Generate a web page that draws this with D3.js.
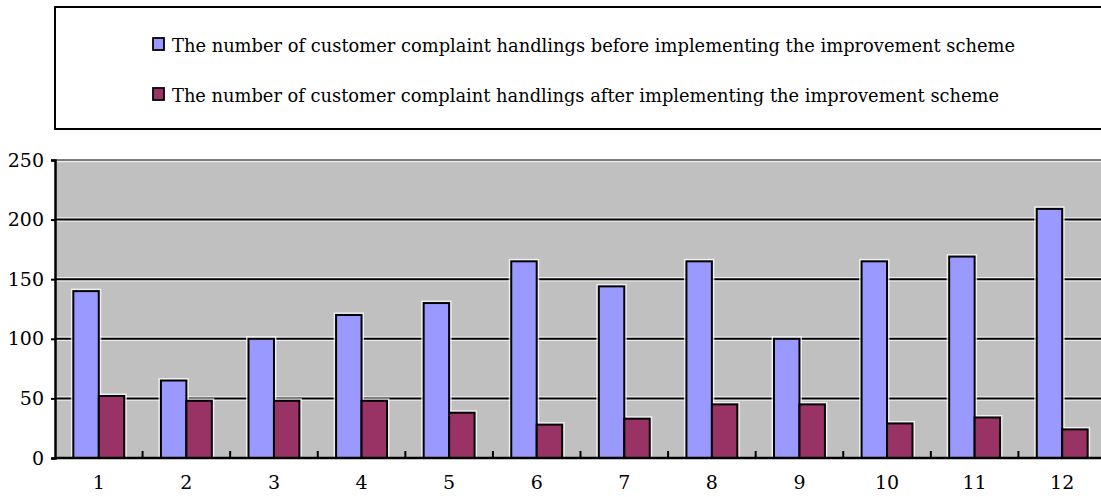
<!DOCTYPE html>
<html><head><meta charset="utf-8">
<script src="https://cdn.jsdelivr.net/npm/d3@7"></script>
<style>
body{margin:0;background:#fff}svg{display:block}
</style>
</head><body>
<svg id="c" width="1101" height="497"></svg>
<script>
const categories = ["1","2","3","4","5","6","7","8","9","10","11","12"];
const before = [140, 65, 100, 120, 130, 165, 144, 165, 100, 165, 169, 209];
const after = [52, 48, 48, 48, 38, 28, 33, 45, 45, 29, 34, 24];
const yTicks = [0, 50, 100, 150, 200, 250];
const seriesNames = [
  "The number of customer complaint handlings before implementing the improvement scheme",
  "The number of customer complaint handlings after implementing the improvement scheme"
];
const colors = ["#9999FF", "#993366"];

(function () {
const FONT = "'DejaVu Serif'";
const svg = d3.select("#c");
const pL = 55, pR = 1106, pT = 160, pB = 458;
const x = d3.scaleBand().domain(categories).range([pL, pR]);
const y = d3.scaleLinear().domain([0, 250]).range([pB, pT]);
const inner = d3.scaleBand().domain([0,1]).range([0, x.bandwidth()]).paddingOuter(0.72).paddingInner(0);

// legend box
svg.append("rect").attr("x", 55).attr("y", 7).attr("width", 1080).attr("height", 122)
  .attr("fill", "#fff").attr("stroke", "#000").attr("stroke-width", 2);
const lg = svg.append("g");
seriesNames.forEach((n, i) => {
  const yy = 38 + i * 50;
  lg.append("rect").attr("x", 153).attr("y", yy).attr("width", 11).attr("height", 12)
    .attr("fill", colors[i]).attr("stroke", "#000").attr("stroke-width", 1.8);
  lg.append("text").attr("x", 172).attr("y", yy + 14)
    .style("font-family", FONT).style("font-size", "19px")
    .attr("textLength", i === 0 ? 843 : 827).attr("lengthAdjust", "spacingAndGlyphs")
    .text(n);
});

// plot background
svg.append("rect").attr("x", pL).attr("y", pT).attr("width", pR - pL).attr("height", pB - pT)
  .attr("fill", "#C0C0C0");

// gridlines
const grid = svg.append("g");
yTicks.filter(t => t > 0).forEach(t => {
  grid.append("line").attr("x1", pL).attr("x2", pR).attr("y1", y(t)).attr("y2", y(t))
    .attr("stroke", "#fff").attr("stroke-opacity", 0.7).attr("stroke-width", 4.5);
  grid.append("line").attr("x1", pL).attr("x2", pR).attr("y1", y(t)).attr("y2", y(t))
    .attr("stroke", t === 250 ? "#555" : "#000").attr("stroke-width", t === 250 ? 1.5 : 2);
});

// bars
const series = [before, after];
const bg = svg.append("g");
series.forEach((vals, si) => {
  bg.selectAll(null).data(vals).join("rect")
    .attr("x", (d, i) => x(categories[i]) + inner(si))
    .attr("y", d => y(d))
    .attr("width", inner.bandwidth())
    .attr("height", d => pB - y(d))
    .attr("fill", "none").attr("stroke", "#fff").attr("stroke-opacity", 0.75).attr("stroke-width", 5);
});
series.forEach((vals, si) => {
  bg.selectAll(null).data(vals).join("rect")
    .attr("x", (d, i) => x(categories[i]) + inner(si))
    .attr("y", d => y(d))
    .attr("width", inner.bandwidth())
    .attr("height", d => pB - y(d))
    .attr("fill", colors[si]).attr("stroke", "#000").attr("stroke-width", 2);
});

// axes
const yAxis = svg.append("g").attr("transform", `translate(${pL},0)`)
  .call(d3.axisLeft(y).tickValues(yTicks).tickSize(4).tickPadding(7));
yAxis.select(".domain").attr("stroke-width", 2.5);
yAxis.selectAll(".tick line").attr("stroke-width", 2);
yAxis.selectAll("text").attr("fill", "#000").style("font-family", FONT).style("font-size", "19px");

const xAxis = svg.append("g").attr("transform", `translate(0,${pB})`)
  .call(d3.axisBottom(x).tickSize(0).tickPadding(18));
xAxis.select(".domain").remove();
xAxis.selectAll("text").attr("fill", "#000").style("font-family", FONT).style("font-size", "19px");
svg.append("line").attr("x1", pL).attr("x2", pR).attr("y1", pB).attr("y2", pB)
  .attr("stroke", "#000").attr("stroke-width", 2.5);
// category boundary ticks
svg.append("g").selectAll("line").data(categories.slice(1)).join("line")
  .attr("x1", d => x(d)).attr("x2", d => x(d)).attr("y1", pB).attr("y2", pB - 7)
  .attr("stroke", "#000").attr("stroke-width", 2);
})();
</script>
</body></html>
